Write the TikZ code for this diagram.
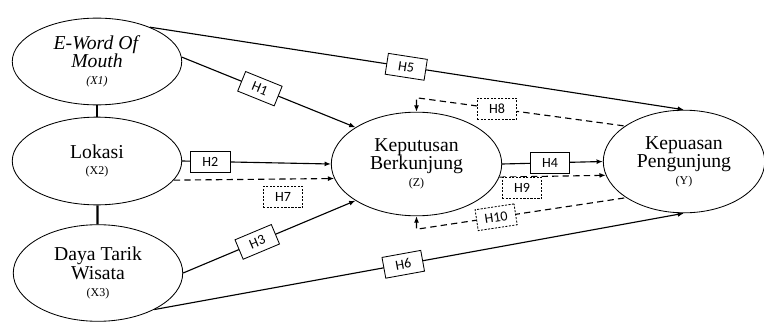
\documentclass[tikz,border=0pt]{standalone}
\usepackage{fontspec}
\setmainfont{Liberation Serif}
\newfontfamily\hfont{Carlito}
\usetikzlibrary{shapes.geometric,arrows.meta}

\begin{document}
\begin{tikzpicture}[x=0.025cm,y=0.025cm,
    var/.style={draw,ellipse,line width=0.6pt,align=center,font=\fontsize{14}{13}\selectfont},
    hyp/.style={draw,solid,fill=white,line width=0.6pt,inner xsep=5pt,minimum width=28pt,minimum height=15pt,font=\hfont\fontsize{10}{10}\selectfont},
    hypd/.style={hyp,dash pattern=on 1.5pt off 1pt},
    link/.style={line width=0.8pt,-{Latex[length=4.5pt,width=3.5pt]}},
    med/.style={link,dash pattern=on 4.5pt off 3pt},
    bar/.style={line width=1.6pt}]
    \tikzstyle{every node}+=[inner sep=0pt]
    \useasboundingbox (0,0) rectangle (764,-322);
    \node [var,minimum width=120.5pt,minimum height=61.7pt] (x1) at (97,-61.5) {\textit{E-Word Of}\\\textit{Mouth}\\[-1pt]{\fontsize{8.5}{9}\selectfont\textit{(X1)}}};
    \node [var,minimum width=120.5pt,minimum height=62.4pt] (x2) at (97,-161) {Lokasi\\[-1pt]{\fontsize{8.5}{9}\selectfont (X2)}};
    \node [var,minimum width=120.5pt,minimum height=68.7pt] (x3) at (98,-273) {Daya Tarik\\Wisata\\[-1pt]{\fontsize{8.5}{9}\selectfont (X3)}};
    \node [var,minimum width=121.2pt,minimum height=73.7pt] (z) at (416.5,-164) {Keputusan\\Berkunjung\\[-1pt]{\fontsize{8.5}{9}\selectfont (Z)}};
    \node [var,minimum width=114.8pt,minimum height=73pt] (y) at (684,-161.5) {Kepuasan\\Pengunjung\\[-1pt]{\fontsize{8.5}{9}\selectfont (Y)}};
    \draw [bar] (x1) -- (x2);
    \draw [bar] (x2) -- (x3);
    % direct paths
    \draw [link] (x1.33) -- node [hyp,sloped,pos=0.48] (h5) {H5} (y.north);
    \draw [link] (x1.3) -- node [hyp,sloped,pos=0.45] (h1) {H1} (z.149);
    \draw [link] (x2.east) -- node [hyp,pos=0.19] (h2) {H2} (z.west);
    \draw [link] (x3.east) -- node [hyp,sloped,pos=0.43] (h3) {H3} (z.211);
    \draw [link] (x3.-33) -- node [hyp,sloped,pos=0.47] (h6) {H6} (y.south);
    \draw [link] (z.east) -- node [hyp,pos=0.475] (h4) {H4} (y.west);
    % mediation paths
    \draw [med] (x2.-14) -- (z.190);
    \node [hypd] (h7) at (283,-197) {H7};
    \draw [med] (z.-9.5) -- (y.190);
    \node [hypd] (h9) at (522,-188) {H9};
    \draw [med,{Latex[length=4.5pt,width=3.5pt]}-] (z.north) -- ++(0,14) coordinate (c8) -- node [hypd,pos=0.386] (h8) {H8} (y.149);
    \draw [med,{Latex[length=4.5pt,width=3.5pt]}-] (z.south) -- ++(0,-13) coordinate (c10) -- node [hypd,sloped,pos=0.38] (h10) {H10} (y.212);
\end{tikzpicture}
\end{document}
